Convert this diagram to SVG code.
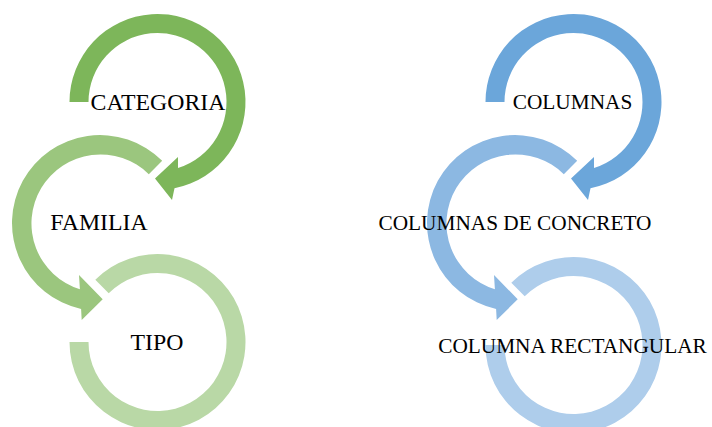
<svg xmlns="http://www.w3.org/2000/svg" width="712" height="427" viewBox="0 0 712 427">
  <style>
    .lbl { font-family: "Liberation Serif", "Times New Roman", serif; fill: #000; text-anchor: middle; }
    .g { font-size: 23.8px; }
    .b { font-size: 21.3px; }
    .g1 { fill: #7DB65A; } .g2 { fill: #9BC67E; } .g3 { fill: #B9D8A6; }
    .b1 { fill: #6BA6DA; } .b2 { fill: #8CB8E2; } .b3 { fill: #AECDEB; }
  </style>
  <defs>
    <path id="arcTop" d="M -88 0 A 88 88 0 1 1 17 86.3 L 14.5 98 L -2.5 76.5 L 20.5 55 L 20.5 65.9 A 69 69 0 1 0 -69 0 Z"/>
    <path id="arcMid" d="M 62.2 -62.2 A 88 88 0 1 0 -18.9 86 L -18.3 97 L 2.7 76.3 L -21 52 L -20.1 66.3 A 69 69 0 1 1 48.8 -48.8 Z"/>
    <path id="arcBot" d="M -62.2 -62.2 A 88 88 0 1 1 -88 0 L -69 0 A 69 69 0 1 0 -48.8 -48.8 Z"/>
  </defs>

  <g id="tipo">
    <use href="#arcBot" class="g3" transform="translate(157.5,342)"/>
    <text class="lbl g" x="157" y="350">TIPO</text>
  </g>
  <g id="familia">
    <use href="#arcMid" class="g2" transform="translate(100,223)"/>
    <text class="lbl g" x="99" y="230">FAMILIA</text>
  </g>
  <g id="categoria">
    <use href="#arcTop" class="g1" transform="translate(157.5,102)"/>
    <text class="lbl g" x="158" y="110">CATEGORIA</text>
  </g>

  <g id="columna-rectangular">
    <use href="#arcBot" class="b3" transform="translate(573.5,345)"/>
    <text class="lbl b" x="572.5" y="353">COLUMNA RECTANGULAR</text>
  </g>
  <g id="columnas-de-concreto">
    <use href="#arcMid" class="b2" transform="translate(515,223)"/>
    <text class="lbl b" x="515" y="230">COLUMNAS DE CONCRETO</text>
  </g>
  <g id="columnas">
    <use href="#arcTop" class="b1" transform="translate(573.5,102)"/>
    <text class="lbl b" x="572.5" y="109">COLUMNAS</text>
  </g>

  <g id="connectors"></g>
</svg>
